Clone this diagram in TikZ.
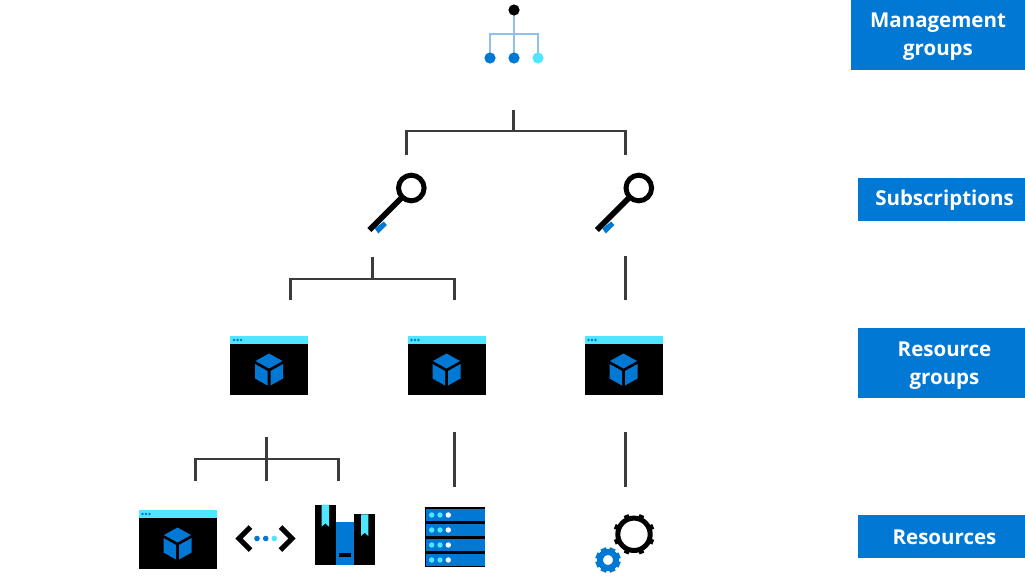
\documentclass[tikz,border=0pt]{standalone}
\usepackage{fontspec}
\newfontfamily\labfont{Open Sans}
\definecolor{azure}{HTML}{0078D4}
\definecolor{sky}{HTML}{50E6FF}
\definecolor{wire}{HTML}{3B3B3B}
\definecolor{twig}{HTML}{8CC0EE}
\tikzset{
  link/.style={draw=wire,line width=2.8pt},
  lab/.style={text=white,inner sep=0pt,align=center,font=\labfont\bfseries\fontsize{20.5}{28.5}\selectfont},
  pics/win/.style={code={
    \fill[black] (0,0) rectangle (78,59);
    \fill[sky] (0,0) rectangle (78,8);
    \foreach \u in {4,7.5,11} \fill[azure] (\u,4) circle (1.3);
    \fill[azure] (39,17.5) -- (52.5,25) -- (39,32.5) -- (25.5,25) -- cycle;
    \fill[azure] (25,28) -- (37.5,35) -- (37.5,49.5) -- (25,42.5) -- cycle;
    \fill[azure] (53,28) -- (40.5,35) -- (40.5,49.5) -- (53,42.5) -- cycle;
  }},
  pics/keyicon/.style={code={
    \draw[black,line width=5pt] (0,0) circle (12.8);
    \draw[black,line width=5.6pt] (-9,9) -- (-42,42);
    \fill[azure] (-36.5,40.5) -- (-27.5,33.5) -- (-24.5,37) -- (-33,45.5) -- cycle;
  }},
  pics/gear/.style n args={4}{code={
    \draw[#1,line width=#4] (0,0) circle (#2);
    \foreach \a in {22.5,67.5,...,337.5}
      \draw[#1,line width=#4] (\a:#2) -- (\a:#3);
  }}
}
\begin{document}
\begin{tikzpicture}[x=1pt,y=-1pt]
\useasboundingbox (0,0) rectangle (1025,576);
% labels
\fill[azure] (851,0) rectangle (1025,70);
\fill[azure] (858,178) rectangle (1025,221);
\fill[azure] (858,328) rectangle (1025,398);
\fill[azure] (858,515) rectangle (1025,558);
\node[lab] (lmg) at (938,36.5) {Management\\groups};
\node[lab] (lsub) at (944.5,200.5) {Subscriptions};
\node[lab] (lrg) at (944.5,365.5) {Resource\\groups};
\node[lab] (lres) at (944.5,537.5) {Resources};
% management group icon
\coordinate (mt) at (514,10);
\coordinate (ma) at (490,58);
\coordinate (mb) at (514,58);
\coordinate (mc) at (538,58);
\draw[twig,line width=1.4pt] (mt) -- (mb);
\draw[twig,line width=1.4pt] (ma) |- (514,34) -| (mc);
\fill[black] (mt) circle (5.6);
\fill[azure] (ma) circle (5.6);
\fill[azure] (mb) circle (5.6);
\fill[sky] (mc) circle (5.6);
% subscriptions
\pic at (411.3,188) {keyicon};
\pic at (638.8,188) {keyicon};
% resource groups
\pic at (230,336) {win};
\pic at (407.5,336) {win};
\pic at (584.5,336) {win};
% resources
\pic at (138.5,510) {win};
% code icon
\draw[black,line width=5pt,miter limit=10] (250.5,527) -- (239,538.5) -- (250.5,550);
\draw[black,line width=5pt,miter limit=10] (280.5,527) -- (292,538.5) -- (280.5,550);
\fill[azure] (257,538.5) circle (2.8);
\fill[azure] (265.7,538.5) circle (2.8);
\fill[sky] (274.3,538.5) circle (2.8);
% package
\fill[azure] (335.7,521.7) rectangle (354.3,564.5);
\fill[black] (315.3,504.7) rectangle (335.7,564.5);
\fill[black] (354.3,514.3) rectangle (374.7,564.5);
\fill[sky] (321.7,504.7) -- (329,504.7) -- (329,526.7) -- (325.3,523.3) -- (321.7,526.7) -- cycle;
\fill[sky] (361,514.3) -- (368.3,514.3) -- (368.3,536) -- (364.7,532.7) -- (361,536) -- cycle;
\fill[black] (339.3,553.3) rectangle (350.7,557);
% server
\fill[black] (425,507.3) rectangle (484.7,567.3);
\foreach \r in {509.3,524.3,539.3,554.3} {
  \fill[azure] (425.7,\r) rectangle (484.7,\r+11.4);
  \fill[sky] (431.7,\r+5.7) circle (2.7);
  \fill[sky] (440,\r+5.7) circle (2.7);
  \fill[white] (448.3,\r+5.7) circle (2.7);
}
% gears
\pic at (634,534.3) {gear={black}{16.2}{20.8}{5pt}};
\pic at (608,560) {gear={azure}{8}{12.6}{6pt}};
% connectors
\coordinate (a0) at (513.5,110); \coordinate (aj) at (513.5,131);
\coordinate (a1) at (406.5,155); \coordinate (a2) at (625.5,155);
\draw[link] (a0) -- (aj);
\draw[link] (a1) |- (aj) -| (a2);
\coordinate (b0) at (372.5,257); \coordinate (bj) at (372.5,279);
\coordinate (b1) at (290.5,300); \coordinate (b2) at (454.5,300);
\draw[link] (b0) -- (bj);
\draw[link] (b1) |- (bj) -| (b2);
\coordinate (c0) at (625.5,256); \coordinate (c1) at (625.5,300);
\draw[link] (c0) -- (c1);
\coordinate (d0) at (266.5,437); \coordinate (dj) at (266.5,459);
\coordinate (d1) at (195.5,481); \coordinate (d2) at (266.5,481); \coordinate (d3) at (338.5,481);
\draw[link] (d0) -- (d2);
\draw[link] (d1) |- (dj) -| (d3);
\coordinate (e0) at (454.5,432); \coordinate (e1) at (454.5,487);
\draw[link] (e0) -- (e1);
\coordinate (f0) at (625.5,432); \coordinate (f1) at (625.5,487);
\draw[link] (f0) -- (f1);
\end{tikzpicture}
\end{document}
